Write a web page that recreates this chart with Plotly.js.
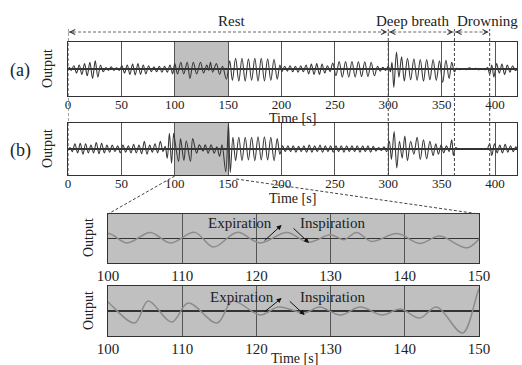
<!DOCTYPE html>
<html><head><meta charset="utf-8">
<script src="https://cdn.plot.ly/plotly-3.0.1.min.js"></script>
<style>html,body{margin:0;padding:0;background:#fff}#chart{width:522px;height:365px}</style>
</head><body><div id="chart"></div>
<script>
// ---- data: extrema of the two output signals (time [s], normalised output) ----
const timeA = [0,1.5,3,5.5,8,10.5,13,15.5,18,20.5,23,25.5,28,30.5,33,35.5,38,40.5,43,45.5,48,50.5,53,55.5,58,60.5,63,65.5,68,70.5,73,75.5,78,80.5,83,85.5,88,90.5,93,95.5,98,
100,102.6,105.7,108.4,111.7,114.2,117.4,120.5,124.1,127,130,131.8,133.5,135.5,139,142,144.7,148.4,
151.5,154,157,160,163,166,169,172,175,178,181,184,187,190,193,196,198.5,200.5,203,205.5,208,210.5,213,215.5,218,220.5,223,225.5,228,230.5,233,235.5,238,240.5,243,245.5,
248,251,254,257,260,263,266,269,272,275,278,281,284,287,290,292.5,295,297.5,300,302,303.5,305.2,307.7,310,312.5,315,318,321,324,327,330,333,336,339,342,345,348,351,354,357,359.5,
362,364,367,370,373,376,379,382,385,388,391,393,395,397,399,401.5,404,406.5,409,411.5,414,416.5,419,421];
const outputA = [0,0.05,-0.05,0.12,-0.15,0.15,-0.2,0.2,-0.25,0.25,-0.35,0.3,-0.3,0.15,-0.1,0.05,-0.05,0.08,-0.05,0.04,-0.05,0.12,-0.15,0.15,-0.2,0.18,-0.22,0.2,-0.2,0.15,-0.18,0.12,-0.1,0.08,-0.1,0.1,-0.12,0.1,-0.12,0.15,-0.18,
0.2,-0.18,0.25,-0.18,0.25,-0.35,0.25,-0.18,0.25,-0.15,0.15,-0.05,0.25,-0.12,0.2,-0.2,0.1,-0.38,
0.3,-0.42,0.4,-0.45,0.4,-0.45,0.38,-0.42,0.4,-0.45,0.4,-0.44,0.38,-0.42,0.36,-0.38,0.15,-0.1,0.1,-0.08,0.12,-0.1,0.1,-0.12,0.12,-0.1,0.15,-0.18,0.18,-0.2,0.2,-0.2,0.18,-0.15,0.12,-0.1,
0.22,-0.25,0.28,-0.3,0.28,-0.3,0.28,-0.3,0.27,-0.28,0.27,-0.28,0.25,-0.25,0.1,-0.08,0.06,-0.05,0.1,-0.1,0.25,-0.68,0.63,-0.3,0.45,-0.45,0.4,-0.4,0.38,-0.42,0.35,-0.45,0.35,-0.4,0.35,-0.42,0.3,-0.5,0.32,-0.35,0.25,
-0.1,0.03,-0.03,0.02,-0.03,0.04,-0.02,0.03,-0.03,0.02,-0.03,0.05,-0.2,0.15,-0.3,0.2,-0.15,0.18,-0.2,0.15,-0.12,0.12,-0.05,0];

const timeB = [0,2,4,6.5,9,11.5,14,16.5,19,21.5,24,26.5,29,31.5,34,36.5,39,41.5,44,46.5,49,51.5,54,56.5,59,61.5,64,66.5,69,71.5,74,76.5,79,81.5,84,86.5,89,91,93,95,97,99,
100,103.6,105.4,108.6,110.8,114.7,116.8,120.5,123,126.5,128.5,131.3,134,137,139.4,142,144.3,147.8,150.3,152,
154.5,157,160,163,166,169,172,175,178,181,184,187,190,193,196,198.5,201,203.5,206,208.5,211,213.5,216,218.5,221,223.5,226,228.5,231,233.5,236,238.5,241,243.5,246,248.5,
251,253.5,256,258.5,261,263.5,266,268.5,271,273.5,276,278.5,281,283.5,286,288.5,291,293.5,296,298.5,301,303,305.5,308,310.5,313,315.5,318,321,324,327,330,333,336,339,342,344.5,347,349.5,352,354.5,357,359.5,361,363,365,
379,
393,395,397,399.5,402,404.5,407,409.5,412,414.5,417,419.5,421];
const outputB = [0,0.05,-0.1,0.2,-0.15,0.22,-0.2,0.2,-0.15,0.15,-0.15,0.25,-0.18,0.22,-0.15,0.15,-0.12,0.15,-0.1,0.12,-0.15,0.15,-0.12,0.12,-0.15,0.18,-0.15,0.15,-0.18,0.3,-0.2,0.15,-0.12,0.2,-0.15,0.3,-0.1,0.1,-0.35,0.6,-0.55,0.6,
0.36,-0.48,0.4,-0.44,0.32,-0.48,0.4,-0.16,0.16,-0.08,0.16,-0.16,0.16,-0.16,0.08,-0.28,0.16,-0.88,0.98,-0.9,
0.45,-0.45,0.45,-0.45,0.45,-0.42,0.45,-0.45,0.47,-0.42,0.47,-0.42,0.45,-0.45,0.4,-0.2,0.12,-0.1,0.12,-0.1,0.12,-0.12,0.1,-0.1,0.12,-0.12,0.15,-0.12,0.12,-0.1,0.15,-0.12,0.12,-0.1,0.12,-0.12,
0.12,-0.1,0.12,-0.12,0.12,-0.1,0.12,-0.1,0.12,-0.12,0.12,-0.1,0.12,-0.12,0.1,-0.08,0.06,-0.06,0.08,-0.1,0.3,-0.4,0.67,-0.73,0.3,-0.35,0.5,-0.45,0.3,-0.2,0.45,-0.4,0.35,-0.38,0.3,-0.25,0.2,-0.2,0.15,-0.15,0.12,-0.1,0.35,-0.25,0.05,0,
null,
0,0.2,-0.25,0.2,-0.15,0.15,-0.15,0.18,-0.12,0.12,-0.1,0.08,0];

const mainTicks = [0,50,100,150,200,250,300,350,400];
const zoomTicks = [100,110,120,130,140,150];
const zoomWindow = [100,150];
const phaseNames = ['Rest','Deep breath','Drowning'];
const phaseStart = [0,300,362];
const phaseEnd = [300,362,395];
const phaseLabelAt = [154,323,393];
const panelLabels = ['(a)','(b)'];
const axisTitleX = 'Time [s]';
const axisTitleY = 'Output';
const breathNotes = ['Expiration','Inspiration'];
// arrow tails / tips for the notes, in data units of the zoom panels
const noteArrowsZoomA = [[120.9,-0.14,123.4,0.55],[124.8,0.47,127.1,-0.18]];
const noteArrowsZoomB = [[120.9,-0.08,123.4,0.52],[124.3,0.44,126.5,-0.16]];
const noteTextZoomA = [[117.8,0.63],[130.2,0.63]];
const noteTextZoomB = [[118.1,0.56],[130.3,0.56]];

// ---- layout geometry ----
const W = 522, H = 365;
const px = v => v / W, py = v => 1 - v / H;
const mainX = [68, 517], zoomX = [108, 479];
const mainRange = [0, 420.6];
const serif = 'Liberation Serif, Times New Roman, serif';
const ink = '#222';
const tToPaper = t => px(mainX[0] + (t - mainRange[0]) / (mainRange[1] - mainRange[0]) * (mainX[1] - mainX[0]));

function xAx(domain, range, ticks, size, anchor, lift) {
  return {domain: domain, range: range, anchor: anchor, tickvals: ticks, ticktext: ticks.map(String),
    ticks: '', ticklen: 0, ticklabelstandoff: lift, showgrid: true, gridcolor: '#555', gridwidth: 1, zeroline: false,
    showline: true, mirror: true, linecolor: '#333', linewidth: 1.3,
    tickfont: {family: serif, size: size, color: ink}, title: {text: ''}};
}
function yAx(domain, anchor) {
  return {domain: domain, range: [-1, 1], anchor: anchor, showticklabels: false, ticks: '', ticklen: 0, showgrid: false,
    zeroline: true, zerolinecolor: '#333', zerolinewidth: 1.2,
    showline: true, mirror: true, linecolor: '#333', linewidth: 1.3, title: {text: ''}};
}

const lineMain = {color: '#383838', width: 1.1, shape: 'spline', smoothing: 1};
const lineZoom = {color: '#8c8c8c', width: 1.5, shape: 'spline', smoothing: 1};
const traces = [
  {x: timeA, y: outputA, xaxis: 'x', yaxis: 'y', mode: 'lines', line: lineMain, hoverinfo: 'skip'},
  {x: timeB, y: outputB, xaxis: 'x2', yaxis: 'y2', mode: 'lines', line: lineMain, hoverinfo: 'skip'},
  {x: timeA, y: outputA, xaxis: 'x3', yaxis: 'y3', mode: 'lines', line: lineZoom, hoverinfo: 'skip'},
  {x: timeB, y: outputB, xaxis: 'x4', yaxis: 'y4', mode: 'lines', line: lineZoom, hoverinfo: 'skip'}
];

const shapes = [];
const grey = '#c0c0c0';
const dashed = {color: '#444', width: 1, dash: '3px,2px'};
['y', 'y2'].forEach((ya, i) => shapes.push({type: 'rect', xref: i ? 'x2' : 'x', yref: ya + ' domain', x0: zoomWindow[0], x1: zoomWindow[1], y0: 0, y1: 1, fillcolor: grey, line: {width: 0}, layer: 'below'}));
['3', '4'].forEach(k => shapes.push({type: 'rect', xref: 'x' + k + ' domain', yref: 'y' + k + ' domain', x0: 0, x1: 1, y0: 0, y1: 1, fillcolor: grey, line: {width: 0}, layer: 'below'}));
// phase boundaries
const bounds = [phaseStart[0]].concat(phaseEnd);
bounds.forEach(b => shapes.push({type: 'line', xref: 'x', yref: 'paper', x0: b, x1: b, y0: py(176), y1: py(29), line: dashed}));
phaseStart.forEach((s, i) => shapes.push({type: 'line', xref: 'x', yref: 'paper', x0: s, x1: phaseEnd[i], y0: py(32), y1: py(32), line: {color: '#666', width: 1, dash: '3px,2px'}}));
// zoom connectors
shapes.push({type: 'line', xref: 'paper', yref: 'paper', x0: tToPaper(zoomWindow[0]), y0: py(176), x1: px(zoomX[0]), y1: py(214), line: dashed});
shapes.push({type: 'line', xref: 'paper', yref: 'paper', x0: tToPaper(zoomWindow[1]) + px(8), y0: py(179), x1: px(zoomX[1]), y1: py(214), line: dashed});

const annotations = [];
phaseNames.forEach((n, i) => {
  annotations.push({text: n, xref: 'x', yref: 'paper', x: phaseLabelAt[i], y: py(21), showarrow: false, font: {family: serif, size: 15, color: ink}, xanchor: 'center', yanchor: 'middle'});
  annotations.push({text: '', xref: 'x', yref: 'paper', x: phaseStart[i], y: py(32), ax: 7, ay: 0, axref: 'pixel', ayref: 'pixel', showarrow: true, arrowhead: 5, arrowsize: 1, arrowwidth: 1, arrowcolor: '#333', standoff: 1});
  annotations.push({text: '', xref: 'x', yref: 'paper', x: phaseEnd[i], y: py(32), ax: -7, ay: 0, axref: 'pixel', ayref: 'pixel', showarrow: true, arrowhead: 5, arrowsize: 1, arrowwidth: 1, arrowcolor: '#333', standoff: 1});
});
panelLabels.forEach((l, i) => annotations.push({text: l, xref: 'paper', yref: 'paper', x: px(20), y: py(i ? 150 : 70), showarrow: false, font: {family: serif, size: 18, color: ink}, xanchor: 'center', yanchor: 'middle'}));
// axis titles (placed where the figure has them)
[[292, 118], [292, 198], [294, 358]].forEach(p => annotations.push({text: axisTitleX, xref: 'paper', yref: 'paper', x: px(p[0]), y: py(p[1]), showarrow: false, font: {family: serif, size: 14, color: ink}, xanchor: 'center', yanchor: 'middle'}));
[[47, 69], [47, 149], [88, 238], [88, 311]].forEach(p => annotations.push({text: axisTitleY, xref: 'paper', yref: 'paper', x: px(p[0]), y: py(p[1]), textangle: -90, showarrow: false, font: {family: serif, size: 14, color: ink}, xanchor: 'center', yanchor: 'middle'}));
[['3', noteArrowsZoomA, noteTextZoomA], ['4', noteArrowsZoomB, noteTextZoomB]].forEach(([k, arr, txt]) => {
  breathNotes.forEach((n, i) => {
    annotations.push({text: n, xref: 'x' + k, yref: 'y' + k, x: txt[i][0], y: txt[i][1], showarrow: false, font: {family: serif, size: 15, color: ink}});
    annotations.push({text: '', xref: 'x' + k, yref: 'y' + k, axref: 'x' + k, ayref: 'y' + k, ax: arr[i][0], ay: arr[i][1], x: arr[i][2], y: arr[i][3], showarrow: true, arrowhead: 2, arrowsize: 1, arrowwidth: 1, arrowcolor: '#111', standoff: 0});
  });
});

const layout = {
  width: W, height: H, margin: {l: 0, r: 0, t: 0, b: 0}, showlegend: false,
  paper_bgcolor: '#fff', plot_bgcolor: 'rgba(0,0,0,0)',
  xaxis: xAx([px(mainX[0]), px(mainX[1])], mainRange, mainTicks, 13, 'y', -4),
  yaxis: yAx([py(96), py(42)], 'x'),
  xaxis2: xAx([px(mainX[0]), px(mainX[1])], mainRange, mainTicks, 13, 'y2', -4),
  yaxis2: yAx([py(175), py(123)], 'x2'),
  xaxis3: xAx([px(zoomX[0]), px(zoomX[1])], zoomWindow, zoomTicks, 15, 'y3', -1),
  yaxis3: yAx([py(263), py(214)], 'x3'),
  xaxis4: xAx([px(zoomX[0]), px(zoomX[1])], zoomWindow, zoomTicks, 15, 'y4', -1),
  yaxis4: yAx([py(336), py(286)], 'x4'),
  shapes: shapes, annotations: annotations
};
Plotly.newPlot('chart', traces, layout, {staticPlot: true, displayModeBar: false});
</script></body></html>
